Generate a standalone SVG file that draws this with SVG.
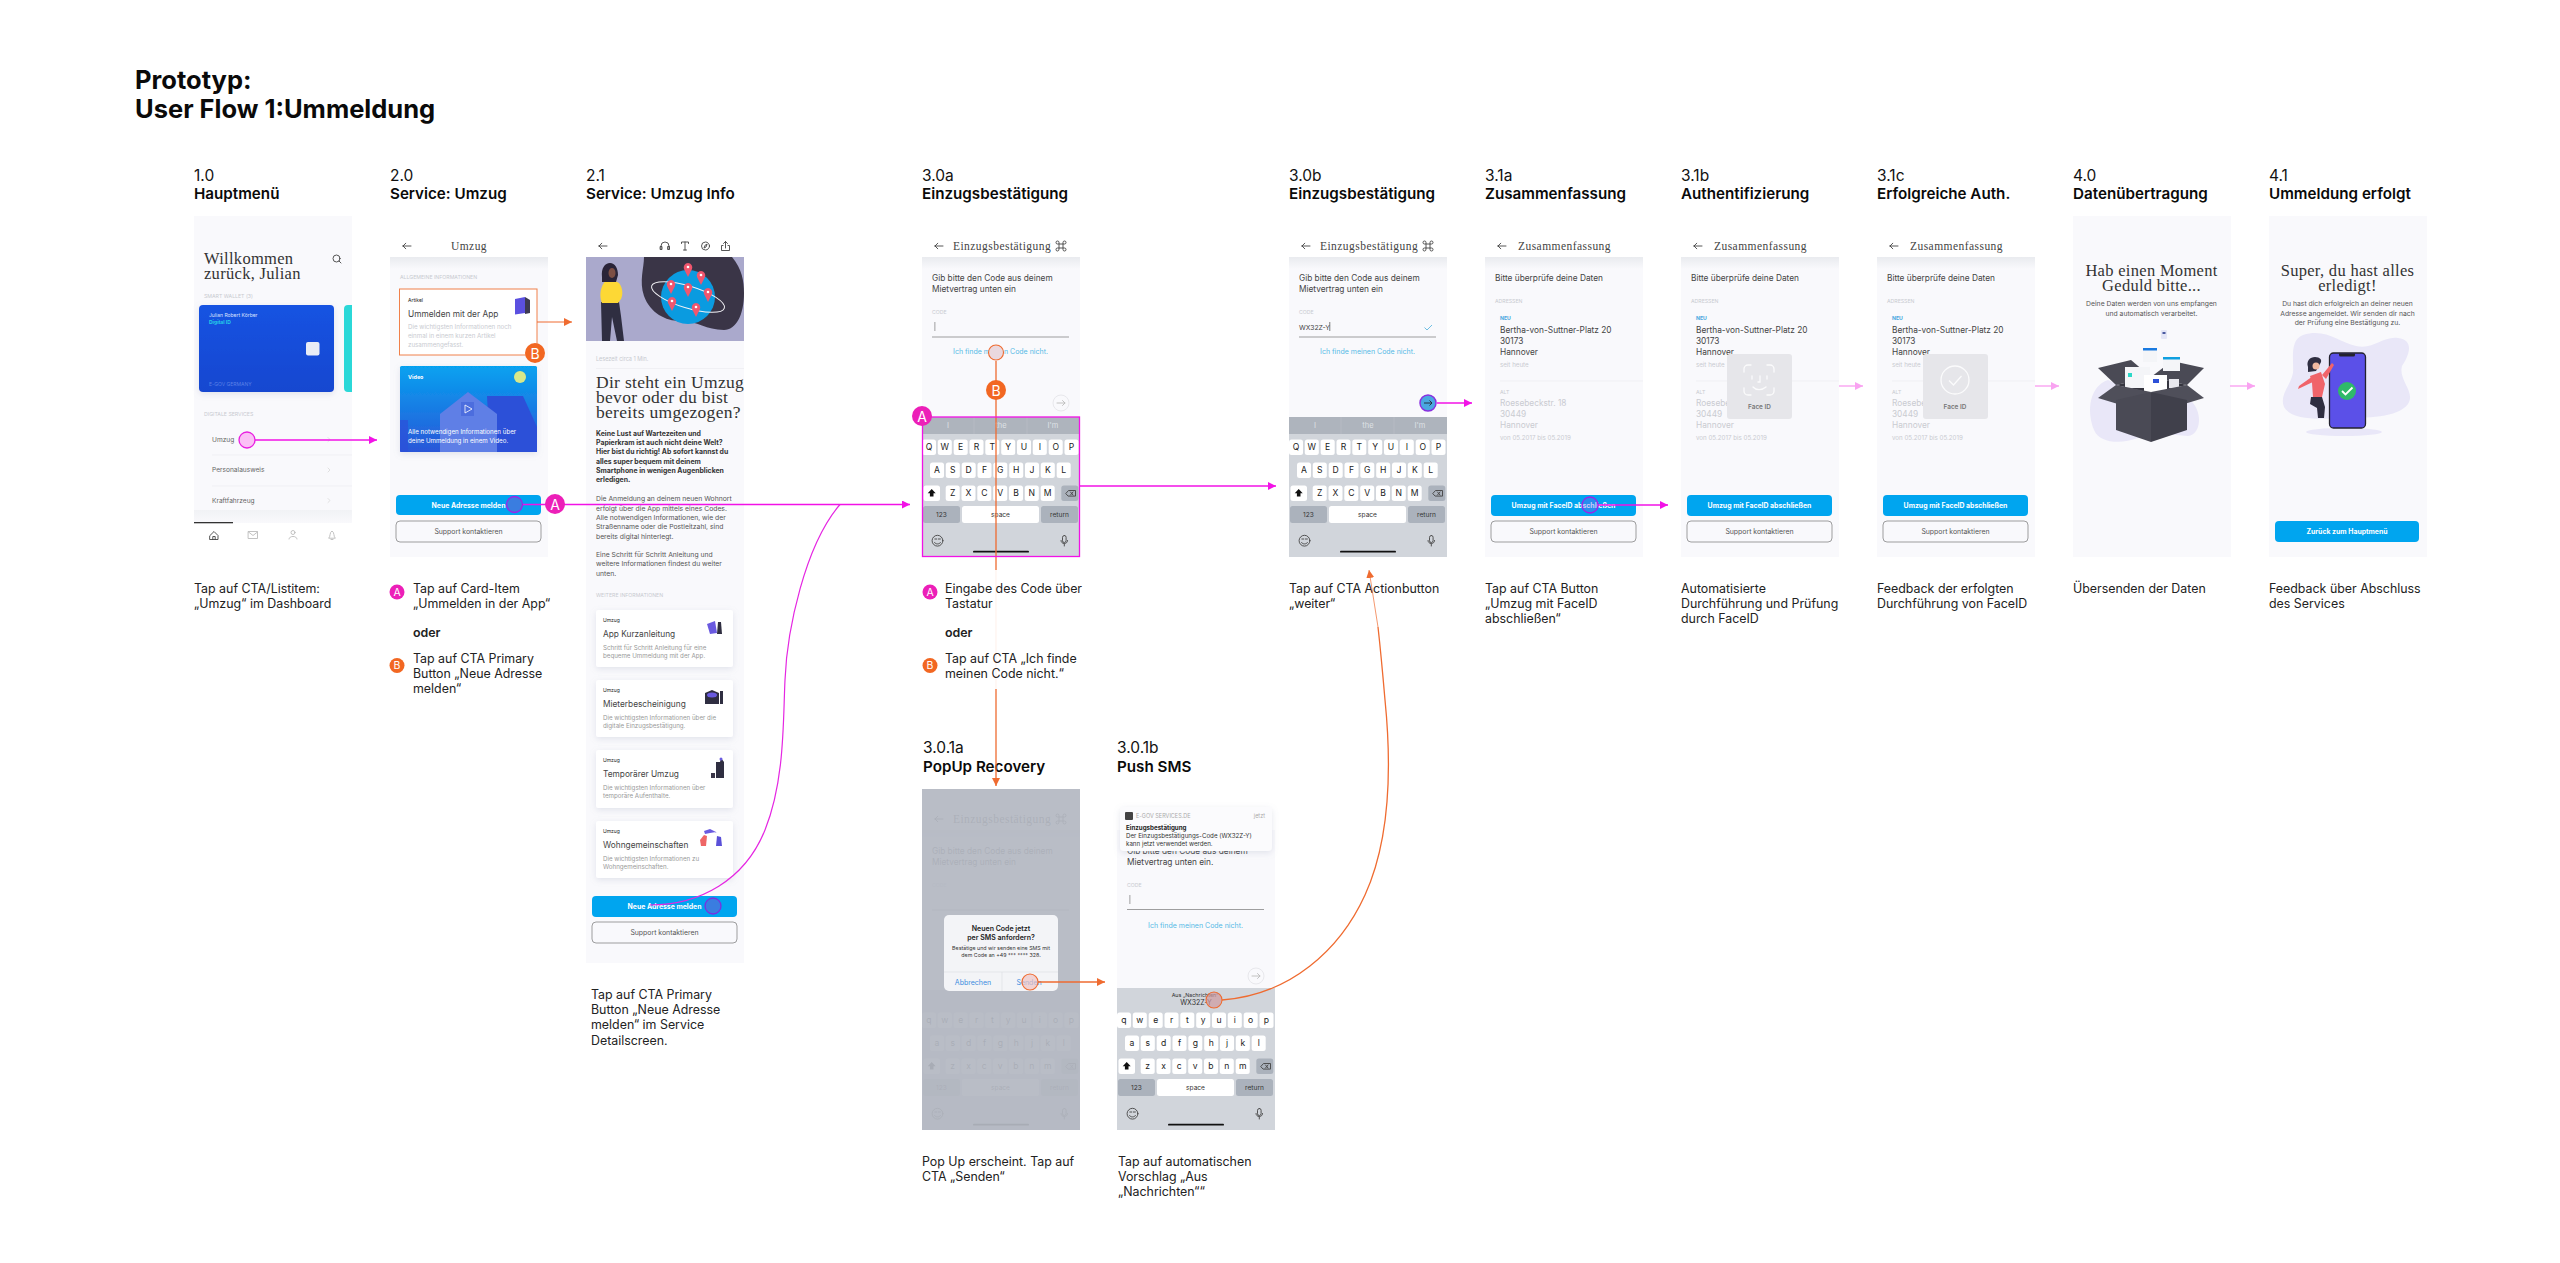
<svg xmlns="http://www.w3.org/2000/svg" width="2560" height="1263" viewBox="0 0 2560 1263">
<style>
text{font-family:"Inter","Liberation Sans",sans-serif;fill:#222}
.m{dominant-baseline:central}
.e{text-anchor:middle}
.t{font-size:25.5px;font-weight:700;fill:#0a0a0a}
.n{font-size:15.5px;fill:#111}
.h{font-size:15.2px;font-weight:600;fill:#0a0a0a}
.c{font-size:12.4px;fill:#222}
.o{font-size:12.4px;font-weight:600;fill:#222}
.nav{font-family:"Liberation Serif",serif;font-size:11.5px;letter-spacing:.45px;fill:#444;dominant-baseline:central}
.s{font-family:"Liberation Serif",serif;fill:#333;dominant-baseline:central;text-anchor:middle;font-size:16.5px;letter-spacing:.3px}
.b8{font-size:8.3px;fill:#444;dominant-baseline:central}
.lb{font-size:5.2px;fill:#c8cad0;dominant-baseline:central}
.g{font-size:8.3px;fill:#c9cbd1;dominant-baseline:central}
.d{font-size:6.2px;fill:#c9cbd1;dominant-baseline:central}
.p{font-size:6.8px;fill:#555;dominant-baseline:central}
.pb{font-size:6.9px;font-weight:700;fill:#333;dominant-baseline:central}
.lnk{font-size:7px;fill:#56b9e6;dominant-baseline:central;text-anchor:middle}
.cd{font-size:6.2px;fill:#999;dominant-baseline:central}
.btxt{font-size:6.9px;font-weight:700;fill:#fff;dominant-baseline:central;text-anchor:middle}
.stxt{font-size:6.9px;fill:#555;dominant-baseline:central;text-anchor:middle}
.k{font-size:8.6px;fill:#222;dominant-baseline:central;text-anchor:middle}
.k6{font-size:6.6px;fill:#333;dominant-baseline:central;text-anchor:middle}
.sug{font-size:7.5px;fill:#dfe2e6;dominant-baseline:central;text-anchor:middle}
.bad{font-size:14px;fill:#fff;dominant-baseline:central;text-anchor:middle}
.bads{font-size:10.5px;fill:#fff;dominant-baseline:central;text-anchor:middle}
.scr{fill:#f9f9fc}
.shd{fill:url(#topShade)}
.btn{fill:#00a5ef}
.btn2{fill:none;stroke:#777;stroke-width:.7}
.key{fill:#fff}
.kg{fill:#abb2bc}
.ln{fill:none;stroke:#ececf0;stroke-width:.7}
.ic{fill:none;stroke:#444;stroke-width:.9;stroke-linecap:round;stroke-linejoin:round}
.icl{fill:none;stroke:#bbb;stroke-width:.9;stroke-linecap:round;stroke-linejoin:round}
.card{fill:#fff;filter:url(#sh)}
.cm{fill:none;stroke:#f212e6;stroke-width:1.4}
.co{fill:none;stroke:#ef6b30;stroke-width:1.3}
.cl{fill:none;stroke:#f9a3f1;stroke-width:1.4}
.th{fill:none;stroke:#e526e2;stroke-width:1.2}
</style>
<defs>
<linearGradient id="topShade" x1="0" y1="0" x2="0" y2="1"><stop offset="0" stop-color="#e9ebef"/><stop offset="1" stop-color="#f9f9fc"/></linearGradient>
<linearGradient id="vid" x1="0" y1="0" x2="0" y2="1"><stop offset="0" stop-color="#06a2f0"/><stop offset="1" stop-color="#2a56d8"/></linearGradient>
<linearGradient id="cardBlue" x1="0" y1="0" x2="0" y2="1"><stop offset="0" stop-color="#1753e2"/><stop offset="1" stop-color="#1547d0"/></linearGradient>
<filter id="sh" x="-20%" y="-20%" width="140%" height="150%"><feDropShadow dx="0" dy="2" stdDeviation="3" flood-color="#8890b0" flood-opacity=".22"/></filter>
<marker id="am" markerUnits="userSpaceOnUse" markerWidth="8" markerHeight="8" refX="8" refY="4" orient="auto"><path d="M0 0L8 4L0 8Z" fill="#f212e6"/></marker>
<marker id="ao" markerUnits="userSpaceOnUse" markerWidth="8" markerHeight="8" refX="8" refY="4" orient="auto"><path d="M0 0L8 4L0 8Z" fill="#ef6b30"/></marker>
<marker id="al" markerUnits="userSpaceOnUse" markerWidth="8" markerHeight="8" refX="8" refY="4" orient="auto"><path d="M0 0L8 4L0 8Z" fill="#f9a3f1"/></marker>
<g id="back"><path class="ic" d="M-4 0h8M-4 0l2.8-2.8M-4 0l2.8 2.8"/></g>
<g id="kbbase">
<rect width="158" height="140" fill="#d1d5db"/>
<g class="key">
<rect x="0" y="22.5" width="14" height="15.6" rx="2.5"/><rect x="15.8" y="22.5" width="14" height="15.6" rx="2.5"/><rect x="31.7" y="22.5" width="14" height="15.6" rx="2.5"/><rect x="47.5" y="22.5" width="14" height="15.6" rx="2.5"/><rect x="63.3" y="22.5" width="14" height="15.6" rx="2.5"/><rect x="79.2" y="22.5" width="14" height="15.6" rx="2.5"/><rect x="95" y="22.5" width="14" height="15.6" rx="2.5"/><rect x="110.8" y="22.5" width="14" height="15.6" rx="2.5"/><rect x="126.7" y="22.5" width="14" height="15.6" rx="2.5"/><rect x="142.5" y="22.5" width="14" height="15.6" rx="2.5"/>
<rect x="8" y="45.5" width="14" height="15.6" rx="2.5"/><rect x="23.8" y="45.5" width="14" height="15.6" rx="2.5"/><rect x="39.7" y="45.5" width="14" height="15.6" rx="2.5"/><rect x="55.5" y="45.5" width="14" height="15.6" rx="2.5"/><rect x="71.3" y="45.5" width="14" height="15.6" rx="2.5"/><rect x="87.2" y="45.5" width="14" height="15.6" rx="2.5"/><rect x="103" y="45.5" width="14" height="15.6" rx="2.5"/><rect x="118.8" y="45.5" width="14" height="15.6" rx="2.5"/><rect x="134.7" y="45.5" width="14" height="15.6" rx="2.5"/>
<rect x="1.5" y="68.5" width="16.5" height="15.6" rx="2.5"/><rect x="23.7" y="68.5" width="14" height="15.6" rx="2.5"/><rect x="39.5" y="68.5" width="14" height="15.6" rx="2.5"/><rect x="55.3" y="68.5" width="14" height="15.6" rx="2.5"/><rect x="71.2" y="68.5" width="14" height="15.6" rx="2.5"/><rect x="87" y="68.5" width="14" height="15.6" rx="2.5"/><rect x="102.8" y="68.5" width="14" height="15.6" rx="2.5"/><rect x="118.7" y="68.5" width="14" height="15.6" rx="2.5"/>
<rect x="40" y="89" width="77" height="17" rx="2.5"/>
</g>
<g class="kg"><rect x="139.3" y="68.5" width="17" height="15.6" rx="2.5"/><rect x="1" y="89" width="37" height="17" rx="2.5"/><rect x="119" y="89" width="37" height="17" rx="2.5"/></g>
<path d="M9.7 72l4 4.2h-2.2v3.3h-3.6v-3.3h-2.2Z" fill="#111"/>
<path class="ic" d="M144 76.3l2.5-2.8h7v5.6h-7ZM148.500 75l2.500 3M151 75l-2.500 3"/>
<text class="k6" x="19.5" y="97.7">123</text><text class="k6" x="78.5" y="97.7">space</text><text class="k6" x="137.5" y="97.7">return</text>
<g class="ic"><circle cx="15.5" cy="123.7" r="5.4"/><path d="M12.5 125.5c1.500 2 4.500 2 6 0M12.8 122h2M16.4 122h2"/></g>
<g class="ic"><rect x="140.5" y="118.5" width="3.6" height="7" rx="1.8"/><path d="M139 123.5c0 4.200 6.600 4.200 6.600 0M142.3 127v2"/></g>
<rect x="51" y="133.8" width="56" height="1.8" rx=".9" fill="#111"/>
</g>
<g id="kbU">
<use href="#kbbase"/>
<rect width="158" height="17" fill="#aeb4bd"/><path d="M52 0v17M105 0v17" stroke="#bcc1c9" stroke-width=".6"/>
<text class="sug" x="26" y="8.5">I</text><text class="sug" x="79" y="8.5">the</text><text class="sug" x="131" y="8.5">I'm</text>
<text class="k" x="7" y="30.3">Q</text><text class="k" x="22.8" y="30.3">W</text><text class="k" x="38.7" y="30.3">E</text><text class="k" x="54.5" y="30.3">R</text><text class="k" x="70.3" y="30.3">T</text><text class="k" x="86.2" y="30.3">Y</text><text class="k" x="102" y="30.3">U</text><text class="k" x="117.8" y="30.3">I</text><text class="k" x="133.7" y="30.3">O</text><text class="k" x="149.5" y="30.3">P</text>
<text class="k" x="15" y="53.3">A</text><text class="k" x="30.8" y="53.3">S</text><text class="k" x="46.7" y="53.3">D</text><text class="k" x="62.5" y="53.3">F</text><text class="k" x="78.3" y="53.3">G</text><text class="k" x="94.2" y="53.3">H</text><text class="k" x="110" y="53.3">J</text><text class="k" x="125.8" y="53.3">K</text><text class="k" x="141.7" y="53.3">L</text>
<text class="k" x="30.7" y="76.3">Z</text><text class="k" x="46.5" y="76.3">X</text><text class="k" x="62.3" y="76.3">C</text><text class="k" x="78.2" y="76.3">V</text><text class="k" x="94" y="76.3">B</text><text class="k" x="109.8" y="76.3">N</text><text class="k" x="125.7" y="76.3">M</text>
</g>
<g id="kbL">
<use href="#kbbase"/>
<text class="k" x="7" y="30.3">q</text><text class="k" x="22.8" y="30.3">w</text><text class="k" x="38.7" y="30.3">e</text><text class="k" x="54.5" y="30.3">r</text><text class="k" x="70.3" y="30.3">t</text><text class="k" x="86.2" y="30.3">y</text><text class="k" x="102" y="30.3">u</text><text class="k" x="117.8" y="30.3">i</text><text class="k" x="133.7" y="30.3">o</text><text class="k" x="149.5" y="30.3">p</text>
<text class="k" x="15" y="53.3">a</text><text class="k" x="30.8" y="53.3">s</text><text class="k" x="46.7" y="53.3">d</text><text class="k" x="62.5" y="53.3">f</text><text class="k" x="78.3" y="53.3">g</text><text class="k" x="94.2" y="53.3">h</text><text class="k" x="110" y="53.3">j</text><text class="k" x="125.8" y="53.3">k</text><text class="k" x="141.7" y="53.3">l</text>
<text class="k" x="30.7" y="76.3">z</text><text class="k" x="46.5" y="76.3">x</text><text class="k" x="62.3" y="76.3">c</text><text class="k" x="78.2" y="76.3">v</text><text class="k" x="94" y="76.3">b</text><text class="k" x="109.8" y="76.3">n</text><text class="k" x="125.7" y="76.3">m</text>
</g>
<g id="qr" class="ic"><path d="M-2-2v-1.500a1.500 1.500 0 1 0-1.500 1.500H3.500a1.500 1.500 0 1 0-1.500-1.500V3.500a1.500 1.500 0 1 0 1.500-1.500H-3.500a1.500 1.500 0 1 0 1.500 1.500Z"/></g>
<g id="codeTop">
<rect y="41" width="158" height="300" class="scr"/><rect y="41" width="158" height="12" class="shd"/>
<use href="#back" x="17" y="30"/>
<text class="nav" x="31" y="30">Einzugsbestätigung</text>
<use href="#qr" x="139" y="30"/>
<text class="b8" x="10" y="62">Gib bitte den Code aus deinem</text>
<text class="b8" x="10" y="73">Mietvertrag unten ein</text>
<text class="lb" x="10" y="96">CODE</text>
<path d="M10 121h137" stroke="#777" stroke-width=".7"/>
<text class="lnk" x="78.5" y="135">Ich finde meinen Code nicht.</text>
</g>
<g id="sum">
<rect y="41" width="158" height="300" class="scr"/><rect y="41" width="158" height="12" class="shd"/>
<use href="#back" x="17" y="30"/>
<text class="nav" x="33" y="30">Zusammenfassung</text>
<text class="b8" x="10" y="62">Bitte überprüfe deine Daten</text>
<text class="lb" x="10" y="85">ADRESSEN</text>
<text class="lb" x="15" y="102" style="fill:#4aa8e0;font-weight:700">NEU</text>
<text class="b8" x="15" y="114">Bertha-von-Suttner-Platz 20</text>
<text class="b8" x="15" y="125">30173</text>
<text class="b8" x="15" y="136">Hannover</text>
<text class="d" x="15" y="148">seit heute</text>
<path class="ln" d="M15 165h143"/>
<text class="lb" x="15" y="176">ALT</text>
<text class="g" x="15" y="187">Roesebeckstr. 18</text>
<text class="g" x="15" y="198">30449</text>
<text class="g" x="15" y="209">Hannover</text>
<text class="d" x="15" y="221">von 05.2017 bis 05.2019</text>
<rect x="6" y="279" width="145" height="21" rx="4" class="btn"/>
<text class="btxt" x="78.5" y="289.5">Umzug mit FaceID abschließen</text>
<rect x="6" y="305" width="145" height="21" rx="4" class="btn2"/>
<text class="stxt" x="78.5" y="315.5">Support kontaktieren</text>
</g>
</defs>

<rect width="2560" height="1263" fill="#fff"/>

<g id="title">
<text class="t" x="135" y="89">Prototyp:</text>
<text class="t" x="135" y="118">User Flow 1:Ummeldung</text>
</g>

<g id="screen-1-0">
<text class="n" x="194" y="181">1.0</text><text class="h" x="194" y="199">Hauptmenü</text>
<rect x="194" y="216" width="158" height="307" class="scr"/>
<text class="s" x="204" y="258" style="text-anchor:start">Willkommen</text>
<text class="s" x="204" y="273" style="text-anchor:start">zurück, Julian</text>
<g class="ic"><circle cx="336.5" cy="258.5" r="3.5"/><path d="M339 261l2 2"/></g>
<text class="lb" x="204" y="295.5">SMART WALLET (3)</text>
<rect x="199" y="305" width="135" height="87" rx="4" fill="url(#cardBlue)" filter="url(#sh)"/>
<path d="M344 305h8v87h-4Q344 392 344 388V309Q344 305 348 305Z" fill="#2bd8d8"/>
<text x="209" y="315" class="m" style="font-size:5px;fill:#dbe4ff">Julian Robert Körber</text>
<text x="209" y="321.5" class="m" style="font-size:5px;font-weight:700;fill:#25d0e8">Digital ID</text>
<rect x="306" y="342" width="13.5" height="13.5" rx="2" fill="#e8ecf6"/>
<text x="209" y="384" class="m" style="font-size:5px;fill:#5a80e6">E-GOV GERMANY</text>
<text class="lb" x="204" y="414">DIGITALE SERVICES</text>
<text class="cd" x="212" y="439.5" style="font-size:6.6px;fill:#666">Umzug</text>
<text class="cd" x="212" y="470" style="font-size:6.6px;fill:#666">Personalausweis</text>
<text class="cd" x="212" y="500.5" style="font-size:6.6px;fill:#666">Kraftfahrzeug</text>
<path class="ln" d="M212 455h140M212 486h140"/>
<path class="icl" d="M328 437.5l2 2-2 2M328 468l2 2-2 2M328 498.5l2 2-2 2" style="stroke:#ddd"/>
<rect x="194" y="510" width="158" height="13" fill="url(#topShade)" opacity=".5"/>
<rect x="194" y="522" width="39" height="1.3" fill="#333"/>
<path class="ic" d="M210 535.5l4-4 4 4v4h-8ZM212.8 539.5v-3h2.4v3"/>
<rect class="icl" x="248.5" y="531.5" width="9" height="7"/><path class="icl" d="M248.5 532l4.5 3.5 4.5-3.5"/>
<circle class="icl" cx="293" cy="532.5" r="2"/><path class="icl" d="M289 539c0-3.5 8-3.5 8 0"/>
<path class="icl" d="M329 538c1.5-1 .5-6 3-7 2.5 1 1.5 6 3 7ZM331 539.5h2"/>
<text class="c" x="194" y="593">Tap auf CTA/Listitem:</text>
<text class="c" x="194" y="608">„Umzug“ im Dashboard</text>
</g>

<g id="screen-2-0">
<text class="n" x="390" y="181">2.0</text><text class="h" x="390" y="199">Service: Umzug</text>
<use href="#back" x="407" y="246"/>
<text class="nav e" x="469" y="246">Umzug</text>
<rect x="390" y="257" width="158" height="300" class="scr"/><rect x="390" y="257" width="158" height="12" class="shd"/>
<text class="lb" x="400" y="277">ALLGEMEINE INFORMATIONEN</text>
<rect x="399.5" y="289" width="137.5" height="66" fill="#fff" stroke="#f0804a" stroke-width="1"/>
<text x="408" y="300" class="m" style="font-size:5px">Artikel</text>
<text class="b8" x="408" y="313.5">Ummelden mit der App</text>
<text class="d" x="408" y="326">Die wichtigsten Informationen noch</text>
<text class="d" x="408" y="335">einmal in einem kurzen Artikel</text>
<text class="d" x="408" y="344">zusammengefasst.</text>
<path d="M515 299l10-2v16l-10 1.5Z" fill="#5b50e0"/><path d="M525 297l5 3v13l-5 1Z" fill="#3d3a52"/>
<rect x="400" y="366" width="137" height="86" rx="1.5" fill="url(#vid)" filter="url(#sh)"/>
<circle cx="520" cy="377" r="6" fill="#d8e88a"/>
<path d="M487 396h36l14 31v25h-47Z" fill="#2c50d8"/>
<path d="M468 392l29 22v38h-57v-38Z" fill="#5f7fe6"/>
<path d="M400 420h8v32h-8Z" fill="#2c50d8" opacity=".7"/>
<rect x="461" y="402" width="13" height="14" fill="#3f60d8" opacity=".6"/>
<path d="M465 405l7 4-7 4Z" fill="none" stroke="#fff" stroke-width=".8"/>
<text x="408" y="377" class="m" style="font-size:5.4px;font-weight:700;fill:#fff">Video</text>
<text class="d" x="408" y="431" style="fill:#fff">Alle notwendigen Informationen über</text>
<text class="d" x="408" y="440" style="fill:#fff">deine Ummeldung in einem Video.</text>
<rect x="396" y="495" width="145" height="20" rx="4" class="btn"/>
<text class="btxt" x="468.5" y="505">Neue Adresse melden</text>
<rect x="396" y="521" width="145" height="21" rx="4" class="btn2"/>
<text class="stxt" x="468.5" y="531.5">Support kontaktieren</text>
<circle cx="397" cy="592" r="7.5" fill="#ec1fb8"/><text class="bads" x="397" y="592">A</text>
<text class="c" x="413" y="593">Tap auf Card-Item</text>
<text class="c" x="413" y="608">„Ummelden in der App“</text>
<text class="o" x="413" y="637">oder</text>
<circle cx="397" cy="665.5" r="7.5" fill="#f26722"/><text class="bads" x="397" y="665.5">B</text>
<text class="c" x="413" y="663">Tap auf CTA Primary</text>
<text class="c" x="413" y="678">Button „Neue Adresse</text>
<text class="c" x="413" y="693">melden“</text>
</g>

<g id="screen-2-1">
<text class="n" x="586" y="181">2.1</text><text class="h" x="586" y="199">Service: Umzug Info</text>
<use href="#back" x="603" y="246"/>
<path class="ic" d="M661 249v-3a4 4 0 0 1 8 0v3M660.5 246.5h1.5v3h-1.5ZM668 246.5h1.5v3H668Z"/>
<path class="ic" d="M681.5 243.5v-1.5h7v1.5M685 242v8M683.5 250h3"/>
<circle class="ic" cx="705.5" cy="246" r="4"/><path class="ic" d="M707 244.5l-1 2.5-2 1 1-2.5Z"/>
<path class="ic" d="M723 245.5h-1.5v5h8v-5H728M725.5 248v-6.5M723.5 243.5l2-2 2 2"/>
<rect x="586" y="257" width="158" height="84" fill="#aaa9cc"/>
<path d="M644 257h88c10 12 12 24 12 36 0 22-8 37-20 37-18 0-26-9-44-9-14 0-30-8-36-25-5-15 0-28 0-39Z" fill="#3a3547"/>
<circle cx="688" cy="297" r="27" fill="#0a9be0"/>
<ellipse cx="688" cy="297" rx="38" ry="11" transform="rotate(17 688 297)" fill="none" stroke="#f2f2f6" stroke-width="1"/>
<g fill="#f0566e"><path d="M688 277l-4-8a4.3 4.3 0 1 1 8 0Z M701 285l-4-8a4.3 4.3 0 1 1 8 0Z M671 294l-4-8a4.3 4.3 0 1 1 8 0Z M688 297l-4-8a4.3 4.3 0 1 1 8 0Z M708 302l-4-8a4.3 4.3 0 1 1 8 0Z M672 311l-4-8a4.3 4.3 0 1 1 8 0Z M696 317l-4-8a4.3 4.3 0 1 1 8 0Z"/></g>
<g fill="#fff"><circle cx="688" cy="267" r="1.3"/><circle cx="701" cy="275" r="1.3"/><circle cx="671" cy="284" r="1.3"/><circle cx="688" cy="287" r="1.3"/><circle cx="708" cy="292" r="1.3"/><circle cx="672" cy="301" r="1.3"/><circle cx="696" cy="307" r="1.3"/></g>
<path d="M601 302h18l2 14 3 25h-7l-5-24-2 24h-8Z" fill="#2f2e41"/>
<path d="M606 280l7 0 6 3c4 5 4 12 2 16l-3 4h-16c-3-7-2-16 4-23Z" fill="#fdd835"/>
<path d="M602 277c-1-9 3-14 8-14s8 5 8 12l-2 7-14 0Z" fill="#2a2438"/>
<ellipse cx="612" cy="273" rx="3.5" ry="5" fill="#7d4f45"/>
<rect x="586" y="341" width="158" height="622" class="scr"/>
<text class="lb" x="596" y="359" style="font-size:5.5px">Lesezeit circa 1 Min.</text>
<path class="ln" d="M596 368.5h148"/>
<text x="596" y="382" class="s" style="text-anchor:start;font-size:17.5px">Dir steht ein Umzug</text>
<text x="596" y="397" class="s" style="text-anchor:start;font-size:17.5px">bevor oder du bist</text>
<text x="596" y="412" class="s" style="text-anchor:start;font-size:17.5px">bereits umgezogen?</text>
<text class="pb" x="596" y="433">Keine Lust auf Wartezeiten und</text>
<text class="pb" x="596" y="442">Papierkram ist auch nicht deine Welt?</text>
<text class="pb" x="596" y="451.5">Hier bist du richtig! Ab sofort kannst du</text>
<text class="pb" x="596" y="461">alles super bequem mit deinem</text>
<text class="pb" x="596" y="470">Smartphone in wenigen Augenblicken</text>
<text class="pb" x="596" y="479">erledigen.</text>
<text class="p" x="596" y="498">Die Anmeldung an deinem neuen Wohnort</text>
<text class="p" x="596" y="508">erfolgt über die App mittels eines Codes.</text>
<text class="p" x="596" y="517">Alle notwendigen Informationen, wie der</text>
<text class="p" x="596" y="526">Straßenname oder die Postleitzahl, sind</text>
<text class="p" x="596" y="536">bereits digital hinterlegt.</text>
<text class="p" x="596" y="554">Eine Schritt für Schritt Anleitung und</text>
<text class="p" x="596" y="563">weitere Informationen findest du weiter</text>
<text class="p" x="596" y="573">unten.</text>
<text class="lb" x="596" y="595">WEITERE INFORMATIONEN</text>
<rect class="card" x="596" y="610" width="137" height="57" rx="2"/>
<text x="603" y="620" class="m" style="font-size:5px">Umzug</text><text class="b8" x="603" y="634">App Kurzanleitung</text>
<text class="cd" x="603" y="647">Schritt für Schritt Anleitung für eine</text><text class="cd" x="603" y="655">bequeme Ummeldung mit der App.</text>
<path d="M707 624l8-3 2 12-7 1Z" fill="#6a5ae0"/><path d="M718 622l3 0 1 12-5 0Z" fill="#2f2e41"/>
<rect class="card" x="596" y="680" width="137" height="57" rx="2"/>
<text x="603" y="690" class="m" style="font-size:5px">Umzug</text><text class="b8" x="603" y="704">Mieterbescheinigung</text>
<text class="cd" x="603" y="717">Die wichtigsten Informationen über die</text><text class="cd" x="603" y="725">digitale Einzugsbestätigung.</text>
<path d="M705 693l7-3 7 3v11h-14Z" fill="#2f2e41"/><ellipse cx="712" cy="695" rx="5" ry="2.5" fill="#6a5ae0"/><path d="M720 691h3v13h-3Z" fill="#2f2e41"/>
<rect class="card" x="596" y="750" width="137" height="58" rx="2"/>
<text x="603" y="760" class="m" style="font-size:5px">Umzug</text><text class="b8" x="603" y="774">Temporärer Umzug</text>
<text class="cd" x="603" y="787">Die wichtigsten Informationen über</text><text class="cd" x="603" y="795">temporäre Aufenthalte.</text>
<path d="M716 762h4l1-4 3 4v16h-8Z" fill="#2f2e41"/><rect x="711" y="773" width="4" height="5" fill="#3a3547"/><circle cx="721" cy="759" r="1.5" fill="#6a5ae0"/>
<rect class="card" x="596" y="821" width="137" height="57" rx="2"/>
<text x="603" y="831" class="m" style="font-size:5px">Umzug</text><text class="b8" x="603" y="845">Wohngemeinschaften</text>
<text class="cd" x="603" y="858">Die wichtigsten Informationen zu</text><text class="cd" x="603" y="866">Wohngemeinschaften.</text>
<path d="M700 840l4-5 3 1-1 10h-5Z" fill="#e66"/><path d="M704 831l6-2 8 4-2-1-6 1-5 1Z" fill="#6a5ae0"/><path d="M717 836l4 1 1 9h-6Z" fill="#5a50d8"/>
<rect x="592" y="896" width="145" height="21" rx="4" class="btn"/>
<text class="btxt" x="664.5" y="906.5">Neue Adresse melden</text>
<rect x="592" y="922" width="145" height="21" rx="4" class="btn2"/>
<text class="stxt" x="664.5" y="932.5">Support kontaktieren</text>
<text class="c" x="591" y="999">Tap auf CTA Primary</text>
<text class="c" x="591" y="1014">Button „Neue Adresse</text>
<text class="c" x="591" y="1029">melden“ im Service</text>
<text class="c" x="591" y="1044.5">Detailscreen.</text>
</g>

<g id="screen-3-0a">
<text class="n" x="922" y="181">3.0a</text><text class="h" x="922" y="199">Einzugsbestätigung</text>
<use href="#codeTop" x="922" y="216"/>
<rect x="934.5" y="322" width=".8" height="9" fill="#888"/>
<circle cx="1061" cy="403" r="8" fill="none" stroke="#e8e8ec"/><path class="icl" d="M1057 403h8M1062.5 400.5l2.5 2.5-2.5 2.5"/>
<use href="#kbU" x="922" y="417"/>
<circle cx="930" cy="592" r="7.5" fill="#ec1fb8"/><text class="bads" x="930" y="592">A</text>
<text class="c" x="945" y="593">Eingabe des Code über</text>
<text class="c" x="945" y="608">Tastatur</text>
<text class="o" x="945" y="637">oder</text>
<circle cx="930" cy="665.5" r="7.5" fill="#f26722"/><text class="bads" x="930" y="665.5">B</text>
<text class="c" x="945" y="663">Tap auf CTA „Ich finde</text>
<text class="c" x="945" y="678">meinen Code nicht.“</text>
</g>

<g id="screen-3-0b">
<text class="n" x="1289" y="181">3.0b</text><text class="h" x="1289" y="199">Einzugsbestätigung</text>
<use href="#codeTop" x="1289" y="216"/>
<text x="1299" y="327" class="m" style="font-size:6.8px;fill:#444">WX32Z-Y</text>
<rect x="1329.5" y="322" width=".7" height="9" fill="#444"/>
<path d="M1424.5 327.5l2.5 2.5 5-5" fill="none" stroke="#5db8e0" stroke-width=".9"/>
<use href="#kbU" x="1289" y="417"/>
<text class="c" x="1289" y="593">Tap auf CTA Actionbutton</text>
<text class="c" x="1289" y="608">„weiter“</text>
</g>

<g id="screen-3-0-1a">
<text class="n" x="923" y="753">3.0.1a</text><text class="h" x="923" y="772">PopUp Recovery</text>
<use href="#codeTop" x="922" y="789"/>
<use href="#kbL" x="922" y="990"/>
<rect x="922" y="789" width="158" height="341" fill="#b4b8c2" opacity=".93"/>
<rect x="944" y="915" width="114" height="76" rx="5" fill="#f3f4f7"/>
<path d="M944 972h114M1002 972v19" stroke="#dcdde2" stroke-width=".6"/>
<text x="1001" y="928" class="m e" style="font-size:7px;font-weight:600;fill:#222">Neuen Code jetzt</text>
<text x="1001" y="937" class="m e" style="font-size:7px;font-weight:600;fill:#222">per SMS anfordern?</text>
<text x="1001" y="948" class="m e" style="font-size:5.3px;fill:#333">Bestätige und wir senden eine SMS mit</text>
<text x="1001" y="954.5" class="m e" style="font-size:5.3px;fill:#333">dem Code an +49 *** **** 328.</text>
<text x="973" y="982" class="m e" style="font-size:7px;fill:#3b8de0">Abbrechen</text>
<text x="1029" y="982" class="m e" style="font-size:7px;fill:#3b8de0">Senden</text>
<text class="c" x="922" y="1166">Pop Up erscheint. Tap auf</text>
<text class="c" x="922" y="1181">CTA „Senden“</text>
</g>

<g id="screen-3-0-1b">
<text class="n" x="1117" y="753">3.0.1b</text><text class="h" x="1117" y="772">Push SMS</text>
<rect x="1117" y="830" width="158" height="160" class="scr"/>
<text class="b8" x="1127" y="851">Gib bitte den Code aus deinem</text>
<text class="b8" x="1127" y="862">Mietvertrag unten ein.</text>
<rect x="1120" y="807" width="152" height="44" rx="4" fill="#fbfbfd" filter="url(#sh)"/>
<rect x="1125" y="812" width="8" height="8" rx="1" fill="#444"/>
<text class="lb" x="1136" y="816" style="font-size:5.5px;fill:#aaa">E-GOV SERVICES.DE</text>
<text class="lb" x="1265" y="816" style="font-size:5.5px;fill:#aaa;text-anchor:end">jetzt</text>
<text x="1126" y="827" class="m" style="font-size:6.2px;font-weight:700">Einzugsbestätigung</text>
<text x="1126" y="835" class="m" style="font-size:6.2px;fill:#333">Der Einzugsbestätigungs-Code (WX32Z-Y)</text>
<text x="1126" y="843" class="m" style="font-size:6.2px;fill:#333">kann jetzt verwendet werden.</text>
<text class="lb" x="1127" y="885">CODE</text>
<rect x="1129.5" y="895" width=".8" height="9" fill="#888"/>
<path d="M1127 909.5h137" stroke="#777" stroke-width=".7"/>
<text class="lnk" x="1195.5" y="925">Ich finde meinen Code nicht.</text>
<circle cx="1256" cy="976" r="8" fill="none" stroke="#e8e8ec"/><path class="icl" d="M1252 976h8M1257.5 973.5l2.5 2.5-2.5 2.5"/>
<use href="#kbL" x="1117" y="990"/>
<rect x="1117" y="988" width="158" height="19" fill="#d1d5db"/>
<text x="1195" y="995" class="m e" style="font-size:5.4px;fill:#333">Aus „Nachrichten“</text>
<text x="1196" y="1002" class="m e" style="font-size:7px;fill:#333">WX32Z-Y</text>
<text class="c" x="1118" y="1166">Tap auf automatischen</text>
<text class="c" x="1118" y="1181">Vorschlag „Aus</text>
<text class="c" x="1118" y="1196">„Nachrichten““</text>
</g>

<g id="screen-3-1a">
<text class="n" x="1485" y="181">3.1a</text><text class="h" x="1485" y="199">Zusammenfassung</text>
<use href="#sum" x="1485" y="216"/>
<text class="c" x="1485" y="593">Tap auf CTA Button</text>
<text class="c" x="1485" y="608">„Umzug mit FaceID</text>
<text class="c" x="1485" y="623">abschließen“</text>
</g>

<g id="screen-3-1b">
<text class="n" x="1681" y="181">3.1b</text><text class="h" x="1681" y="199">Authentifizierung</text>
<use href="#sum" x="1681" y="216"/>
<rect x="1727" y="354" width="65" height="65" rx="3" fill="#e6e6ea"/>
<g fill="none" stroke="#fbfbfc" stroke-width="1.3" stroke-linecap="round"><path d="M1744 372v-3a4 4 0 0 1 4-4h3M1767 365h3a4 4 0 0 1 4 4v3M1774 388v3a4 4 0 0 1-4 4h-3M1751 395h-3a4 4 0 0 1-4-4v-3M1752 376v3M1767 376v3M1760 376v6h-2M1753 387c3 3.5 9 3.5 13 0"/></g>
<text x="1759.5" y="407" class="m e" style="font-size:6.4px;font-weight:600;fill:#777">Face ID</text>
<text class="c" x="1681" y="593">Automatisierte</text>
<text class="c" x="1681" y="608">Durchführung und Prüfung</text>
<text class="c" x="1681" y="623">durch FaceID</text>
</g>

<g id="screen-3-1c">
<text class="n" x="1877" y="181">3.1c</text><text class="h" x="1877" y="199">Erfolgreiche Auth.</text>
<use href="#sum" x="1877" y="216"/>
<rect x="1923" y="354" width="65" height="65" rx="3" fill="#e6e6ea"/>
<circle cx="1955" cy="380" r="14" fill="none" stroke="#fbfbfc" stroke-width="1.3"/>
<path d="M1949 380.5l4.5 4.5 8-9" fill="none" stroke="#fbfbfc" stroke-width="1.3"/>
<text x="1955" y="407" class="m e" style="font-size:6.4px;font-weight:600;fill:#777">Face ID</text>
<text class="c" x="1877" y="593">Feedback der erfolgten</text>
<text class="c" x="1877" y="608">Durchführung von FaceID</text>
</g>

<g id="screen-4-0">
<text class="n" x="2073" y="181">4.0</text><text class="h" x="2073" y="199">Datenübertragung</text>
<rect x="2073" y="216" width="158" height="341" class="scr"/>
<text class="s" x="2151.5" y="270">Hab einen Moment</text>
<text class="s" x="2151.5" y="285">Geduld bitte...</text>
<text class="p e" x="2151.5" y="303">Deine Daten werden von uns empfangen</text>
<text class="p e" x="2151.5" y="313">und automatisch verarbeitet.</text>
<path d="M2108 380c-18 6-22 30-14 50 6 14 28 14 44 8 20-4 30-4 50-2 14-2 14-24 4-34-12-12-50-6-84-22Z" fill="#e9e7f8"/>
<rect x="2161" y="330" width="6" height="9" rx="1" fill="#e4e6f6"/><rect x="2162.5" y="332" width="3" height="2" fill="#4a5aa0"/>
<path d="M2098 368l33-8 20 17-35 8Z" fill="#4a4a55"/><path d="M2204 368l-32-7-21 16 36 8Z" fill="#4a4a55"/>
<path d="M2116 385l35-8 36 8-36 8Z" fill="#35353f"/>
<rect x="2143" y="348" width="14" height="14" fill="#f4f5f8"/><rect x="2143" y="348" width="14" height="2.5" fill="#1a7ae0"/>
<rect x="2163" y="357" width="17" height="14" fill="#f4f5f8"/><rect x="2163" y="357" width="17" height="2.5" fill="#10a0e0"/>
<rect x="2125" y="367" width="25" height="21" fill="#f4f5f8"/><rect x="2128" y="373" width="4" height="4" fill="#2bd8c8"/>
<rect x="2144" y="375" width="23" height="18" fill="#fff"/><rect x="2153" y="379" width="6" height="4" fill="#2c50d8"/>
<rect x="2169" y="379" width="10" height="9" fill="#e8e8ee"/>
<path d="M2116 385l35 7-20 16-33-10Z" fill="#4f4f5a"/><path d="M2187 385l-36 7 20 16 33-10Z" fill="#4f4f5a"/>
<path d="M2116 400l35-8v50l-35-12Z" fill="#4a4a55"/><path d="M2187 400l-36-8v50l36-12Z" fill="#40404b"/>
<text class="c" x="2073" y="593">Übersenden der Daten</text>
</g>

<g id="screen-4-1">
<text class="n" x="2269" y="181">4.1</text><text class="h" x="2269" y="199">Ummeldung erfolgt</text>
<rect x="2269" y="216" width="158" height="341" class="scr"/>
<text class="s" x="2347.5" y="270">Super, du hast alles</text>
<text class="s" x="2347.5" y="285">erledigt!</text>
<text class="p e" x="2347.5" y="303">Du hast dich erfolgreich an deiner neuen</text>
<text class="p e" x="2347.5" y="313">Adresse angemeldet. Wir senden dir nach</text>
<text class="p e" x="2347.5" y="322">der Prüfung eine Bestätigung zu.</text>
<path d="M2303 335c-14 5-9 26-10 38-2 12-14 22-9 34 8 14 36 12 58 11 24 0 56 0 66-14 8-12-10-24-6-38 8-12 12-26-4-28-16-2-24 12-42 8-18-4-30-18-53-11Z" fill="#e9e7f8"/>
<ellipse cx="2344" cy="432" rx="38" ry="4" fill="#e9e7f8"/>
<rect x="2329.5" y="353" width="36" height="75" rx="4" fill="#5b50e8" stroke="#23222e" stroke-width="1.3"/>
<path d="M2339 353.5h16v1.5a1.5 1.5 0 0 1-1.5 1.5h-13a1.5 1.5 0 0 1-1.5-1.5Z" fill="#23222e"/>
<circle cx="2347" cy="391" r="9" fill="#2fb96a"/>
<path d="M2342 391l3.5 3.5 7-7" fill="none" stroke="#fff" stroke-width="1.8"/>
<path d="M2321 372l4 12-3 13h-9l-1-14-2-7Z" fill="#f0646a"/>
<path d="M2313 376l-14 10-1 3 17-8ZM2322 375l10-12 2 2-8 14Z" fill="#f0646a"/>
<path d="M2311 397l11 0 3 10-1 11-6 0-1-10-7-4Z" fill="#2f2e41"/>
<path d="M2308 367c-2-6 2-10 7-10s8 3 5 7l-4 7-8 1Z" fill="#2f2e41"/><circle cx="2316" cy="366" r="3.5" fill="#f0b9a0"/>
<rect x="2275" y="521" width="144" height="21" rx="4" class="btn"/>
<text class="btxt" x="2347" y="531.5">Zurück zum Hauptmenü</text>
<text class="c" x="2269" y="593">Feedback über Abschluss</text>
<text class="c" x="2269" y="608">des Services</text>
</g>

<g id="connectors">
<path class="cm" d="M255 440H377" marker-end="url(#am)"/>
<path class="cm" d="M523 504.5H910" marker-end="url(#am)"/>
<path class="th" d="M650 905C700 905 745 880 765 830C785 780 783 720 785 680C787 630 805 545 840 504.5"/>
<path class="cm" d="M1080 486H1276" marker-end="url(#am)"/>
<path class="cm" d="M1437 403H1472" marker-end="url(#am)"/>
<path class="cm" d="M1598 505H1668" marker-end="url(#am)"/>
<path class="cl" d="M1839 386H1863" marker-end="url(#al)"/>
<path class="cl" d="M2035 386H2059" marker-end="url(#al)"/>
<path class="cl" d="M2230 386H2255" marker-end="url(#al)"/>
<path class="co" d="M537 322H572" marker-end="url(#ao)" style="stroke-width:1"/>
<path class="co" d="M996 361V570"/>
<path class="co" d="M996 570V689" opacity=".08"/>
<path class="co" d="M996 689V786" marker-end="url(#ao)"/>
<path class="co" d="M1038 982H1105" marker-end="url(#ao)"/>
<path class="co" d="M1222 1000C1290 995 1340 950 1365 895C1390 840 1392 770 1385 700C1382 665 1380 645 1378 627"/>
<path class="co" d="M1378 627L1369 570" style="stroke-width:.7" marker-end="url(#ao)"/>
<rect x="922.5" y="417" width="157" height="139.5" fill="none" stroke="#f212e6" stroke-width="1.3"/>
<circle cx="247" cy="440" r="8" fill="#fbc0f6" stroke="#e81fe0" stroke-width="1.3"/>
<circle cx="514.5" cy="504.5" r="8" fill="#3a7de0" stroke="#a020e8" stroke-width="1.3"/>
<circle cx="713" cy="906" r="8" fill="#3a7de0" stroke="#7a30e0" stroke-width="1.3"/>
<circle cx="1428" cy="403" r="8" fill="#4aa8e0" stroke="#8a30e0" stroke-width="1.5"/>
<path d="M1424 403h8M1429.5 400.5l2.5 2.5-2.500 2.500" fill="none" stroke="#223" stroke-width=".9"/>
<circle cx="1590" cy="505" r="8" fill="#7060ee" fill-opacity=".35" stroke="#a020e8" stroke-width="1.3"/>
<circle cx="996" cy="352.5" r="7.5" fill="#ead8de" stroke="#ef6b30" stroke-width="1.1"/>
<circle cx="1030" cy="982" r="8" fill="#eec3c3" fill-opacity=".7" stroke="#ef6b30" stroke-width="1.1"/>
<circle cx="1214" cy="1000" r="8" fill="#d09aa0" fill-opacity=".7" stroke="#ef6b30" stroke-width="1.1"/>
<circle cx="555" cy="504" r="10" fill="#ec1fb8"/><text class="bad" x="555" y="504">A</text>
<circle cx="535" cy="353" r="10" fill="#f26722"/><text class="bad" x="535" y="353">B</text>
<circle cx="922" cy="416" r="10" fill="#ec1fb8"/><text class="bad" x="922" y="416">A</text>
<circle cx="996" cy="390" r="10" fill="#f26722"/><text class="bad" x="996" y="390">B</text>
</g>
</svg>
